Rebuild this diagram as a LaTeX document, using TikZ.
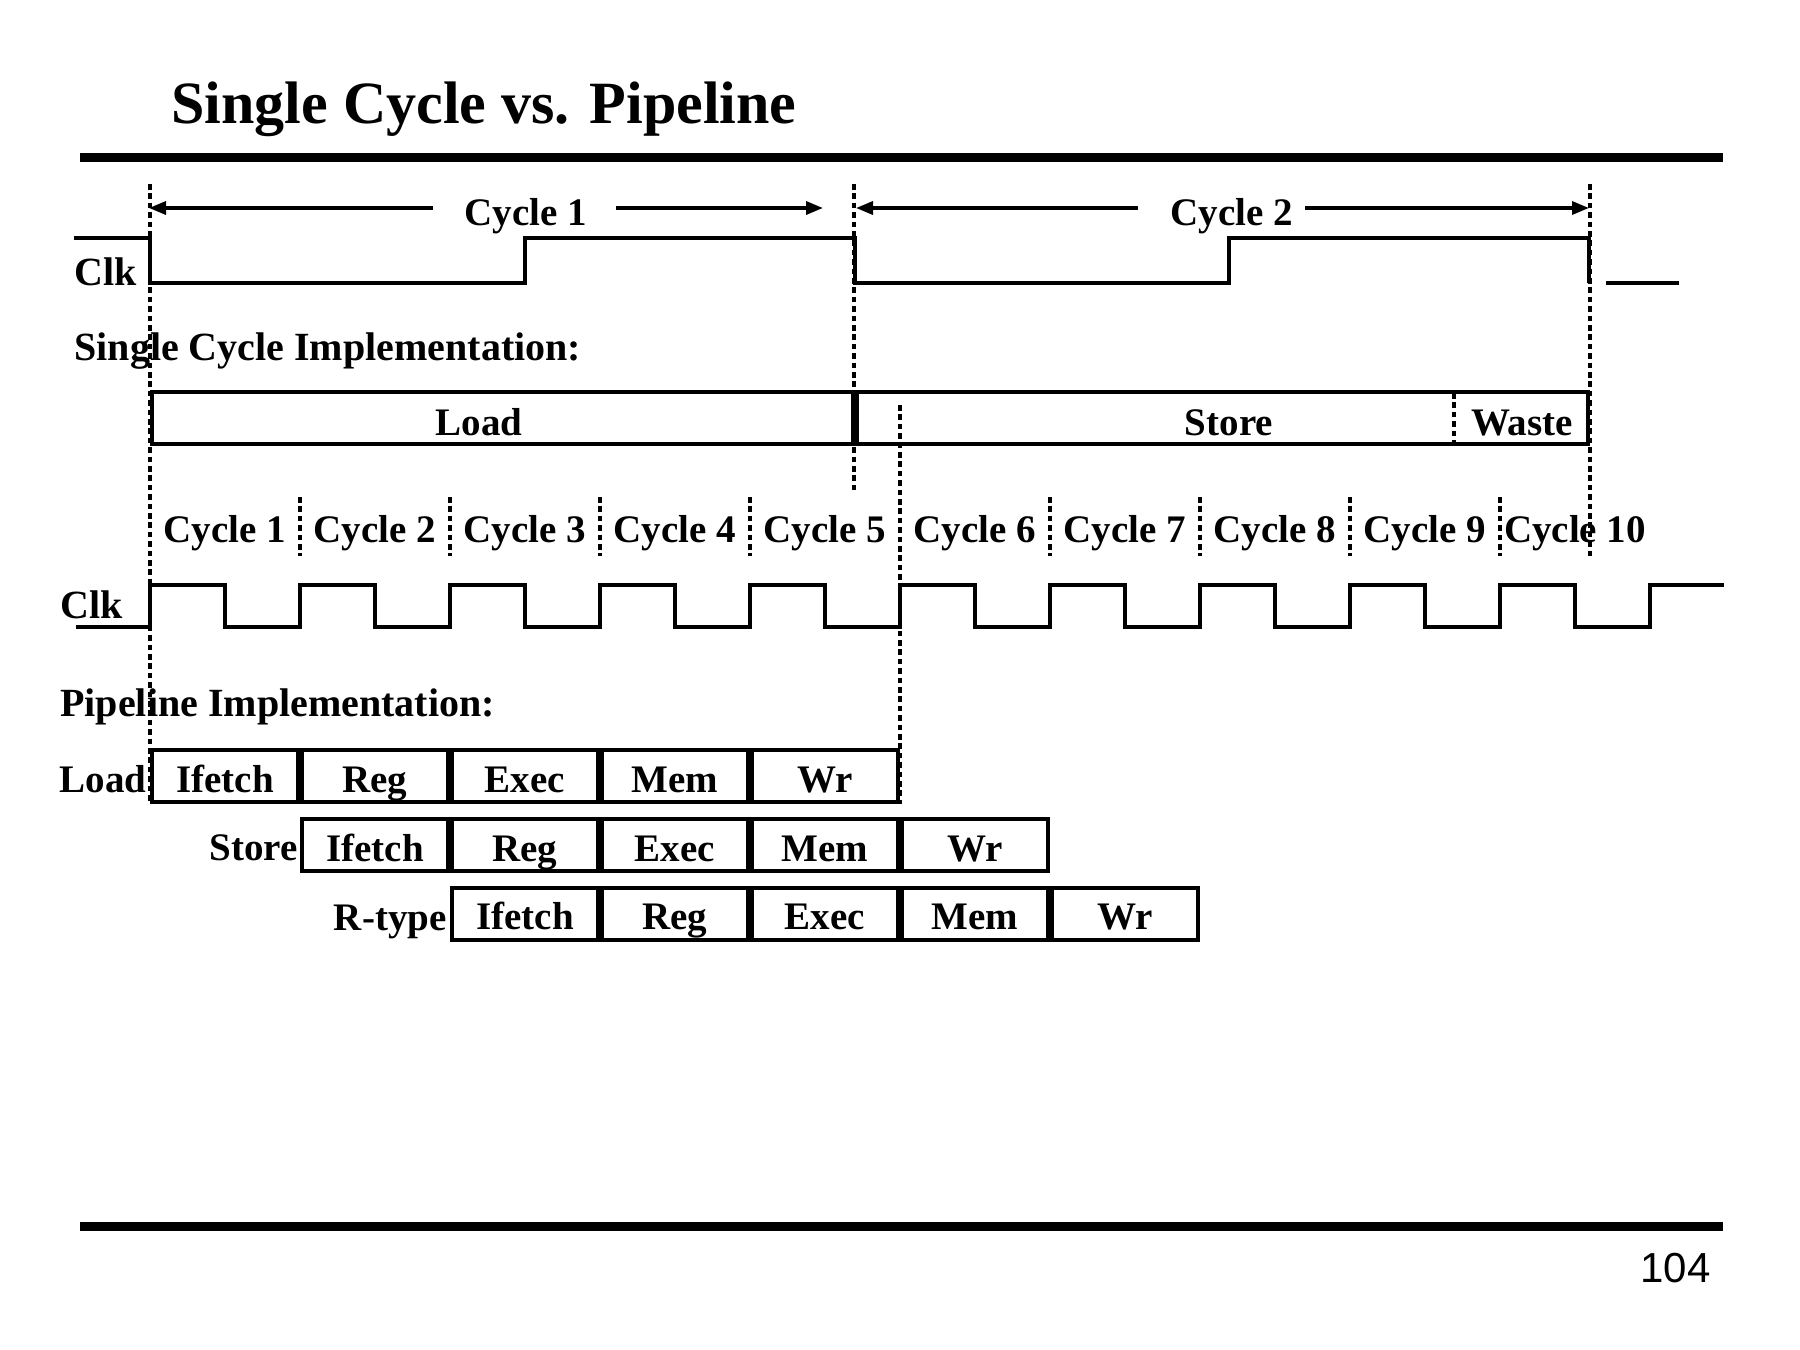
\documentclass[tikz,border=0pt]{standalone}
\usepackage{fontspec}
\setmainfont{Liberation Serif}
\newfontfamily\pgnumfont{Liberation Sans}
\usetikzlibrary{arrows.meta}
\begin{document}
\begin{tikzpicture}[x=0.5pt,y=-0.5pt,
  wave/.style={line width=2pt, line join=miter},
  dots/.style={line width=1.8pt, dash pattern=on 2.8pt off 1.9pt},
  hrule/.style={line width=4.5pt},
  lbl/.style={font=\fontsize{19.5}{22}\selectfont\bfseries, inner sep=0pt},
  hd/.style={font=\fontsize{20}{24}\selectfont\bfseries, inner sep=0pt},
  cyc/.style={font=\fontsize{19.5}{22}\selectfont\bfseries, inner sep=0pt, text height=13pt, text depth=0pt},
  sbox/.style={draw, line width=2pt, minimum height=26pt, inner sep=0pt},
  stg/.style={draw, line width=2pt, minimum width=73pt, minimum height=26pt, inner sep=0pt,
    font=\fontsize{19.5}{22}\selectfont\bfseries, text height=16pt, text depth=0pt},
  arr/.style={line width=1.7pt, -{Triangle[length=8.5pt,width=6.5pt]}},
]
\useasboundingbox (0,0) rectangle (1800,1350);

% title and rules
\node[anchor=base west, inner sep=0pt, font=\fontsize{30}{34}\selectfont\bfseries] (title) at (171,123) {Single Cycle vs. Pipeline};
\draw[hrule] (80,157.5) -- (1723,157.5);
\draw[hrule] (80,1226.5) -- (1723,1226.5);
\node[anchor=base east, inner sep=0pt, font=\pgnumfont\fontsize{21}{24}\selectfont] (pg) at (1711,1282) {104};

% cycle arrows
\node[cyc] (c1) at (526,212) {Cycle 1};
\coordinate (a1a) at (433,208); \coordinate (a1b) at (149,208);
\coordinate (a1c) at (616,208); \coordinate (a1d) at (823,208);
\draw[arr] (a1a) -- (a1b);
\draw[arr] (a1c) -- (a1d);
\node[cyc] (c2) at (1232,212) {Cycle 2};
\coordinate (a2a) at (1138,208); \coordinate (a2b) at (856,208);
\coordinate (a2c) at (1305,208); \coordinate (a2d) at (1589,208);
\draw[arr] (a2a) -- (a2b);
\draw[arr] (a2c) -- (a2d);

% top clock
\node[hd, anchor=base west] (clk1) at (74,285) {Clk};
\draw[wave] (74,238) -- (150,238) -- (150,283) -- (525,283) -- (525,238) -- (855,238) -- (855,283)
  -- (1229,283) -- (1229,238) -- (1589,238) -- (1589,283);
\draw[wave] (1606,283) -- (1679,283);

% single cycle implementation
\node[hd, anchor=base west] (sci) at (74,360) {Single Cycle Implementation:};
\node[sbox, minimum width=350.5pt] (sload) at (502.5,418) {};
\node[sbox, minimum width=365.5pt] (sstore) at (1222.5,418) {};
\node[lbl, anchor=base] (tload) at (479,435) {Load};
\node[lbl, anchor=base] (tstore) at (1229,435) {Store};
\node[lbl, anchor=base] (twaste) at (1522,435) {Waste};
\draw[dots] (1454,393) -- (1454,447);

% dotted guide lines
\draw[dots] (150,184) -- (150,804);
\draw[dots] (854,184) -- (854,494);
\draw[dots] (1590,184) -- (1590,556);
\draw[dots] (900,405) -- (900,804);
\foreach \x in {300,450,600,750,1050,1200,1350,1500}
  \draw[dots] (\x,497) -- (\x,556);

% cycle labels
\foreach \k in {1,...,10}
  \node[lbl, anchor=base] (cy\k) at ({75+150*\k},542) {Cycle \k};

% bottom clock
\node[hd, anchor=base west] (clk2) at (60,618) {Clk};
\draw[wave] (76,627) foreach \k in {0,...,9} {
    -- ({150+150*\k},627) -- ({150+150*\k},585) -- ({225+150*\k},585) -- ({225+150*\k},627) }
  -- (1650,627) -- (1650,585) -- (1724,585);

% pipeline implementation
\node[hd, anchor=base west] (pi) at (60,716) {Pipeline Implementation:};
\foreach \s [count=\i from 0] in {Ifetch,Reg,Exec,Mem,Wr} {
  \node[stg] (L\i) at ({225+150*\i},776) {\s};
  \node[stg] (S\i) at ({375+150*\i},845) {\s};
  \node[stg] (R\i) at ({525+150*\i},913.5) {\s};
}
\node[lbl, anchor=base east] (rload) at (147,792) {Load};
\node[lbl, anchor=base east] (rstore) at (298,860) {Store};
\node[lbl, anchor=base east] (rrtype) at (447,930) {R-type};
\end{tikzpicture}
\end{document}
